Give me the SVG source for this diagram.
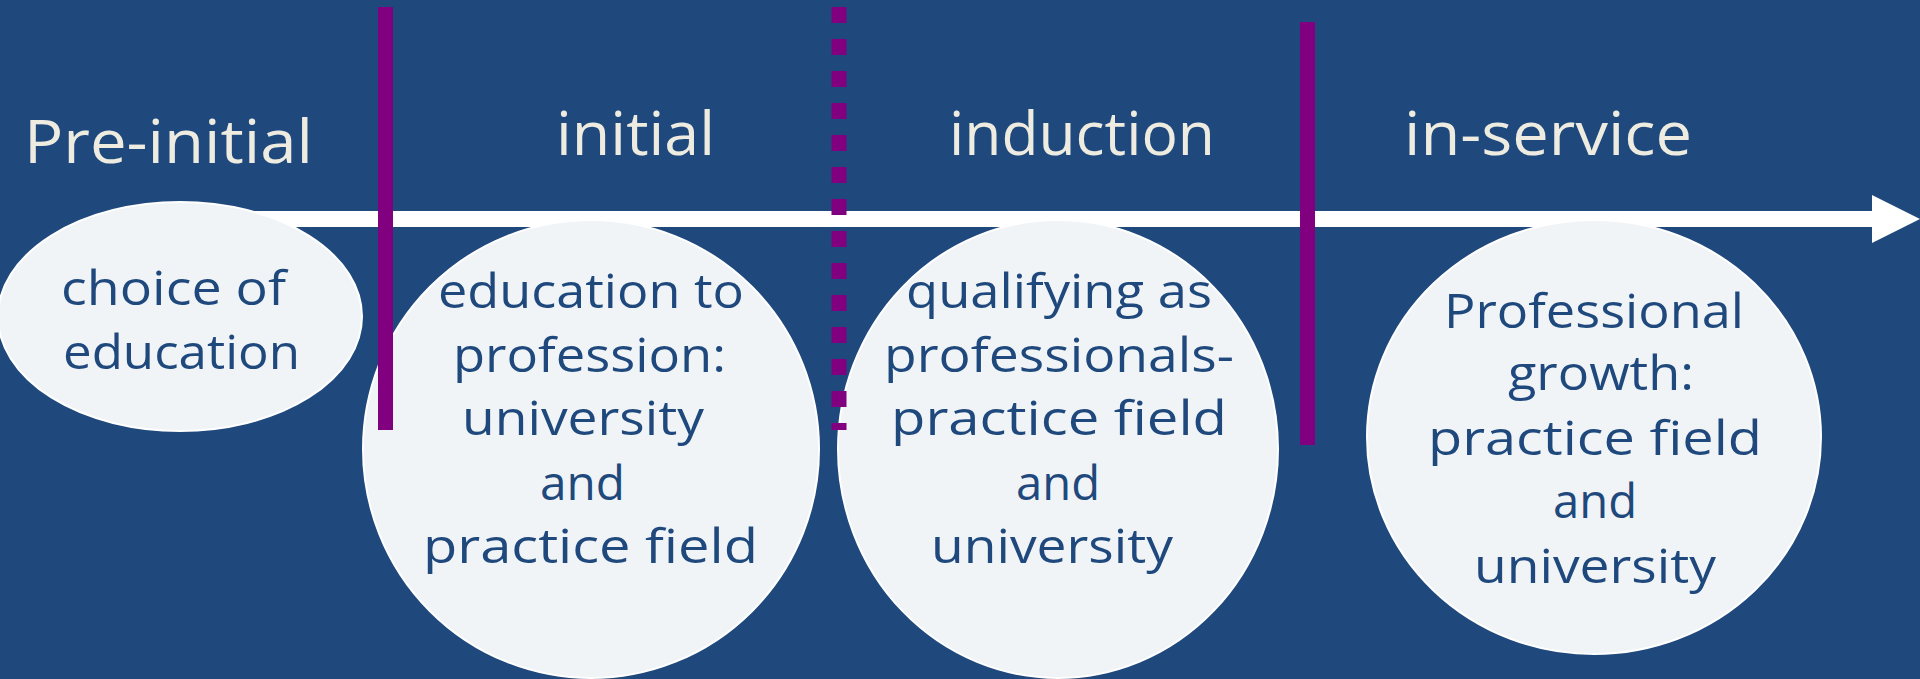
<svg xmlns="http://www.w3.org/2000/svg" width="1920" height="679" viewBox="0 0 1920 679">
<style>
.bg{fill:#1F497D}
.node ellipse{fill:#F0F4F7;stroke:#FFFFFF;stroke-width:2}
.hdr{font-family:"Comic Sans MS","Open Sans",sans-serif;font-size:60px;fill:#EEECE1}
.body{font-family:"Comic Sans MS","Open Sans",sans-serif;font-size:48px;fill:#1F497D}
.div{stroke:#800080;stroke-width:15;fill:none}
</style>
<rect class="bg" x="0" y="0" width="1920" height="679"/>
<g id="connectors">
  <rect x="200" y="211" width="1674" height="16" fill="#FFFFFF"/>
  <polygon points="1872,195 1920,219 1872,243" fill="#FFFFFF"/>
</g>
<g id="headers">
  <text class="hdr" x="24" y="163" textLength="289" lengthAdjust="spacingAndGlyphs">Pre-initial</text>
  <text class="hdr" x="556" y="155" textLength="159" lengthAdjust="spacingAndGlyphs">initial</text>
  <text class="hdr" x="949" y="155" textLength="266" lengthAdjust="spacingAndGlyphs">induction</text>
  <text class="hdr" x="1404" y="155" textLength="288" lengthAdjust="spacingAndGlyphs">in-service</text>
</g>
<g id="node-choice" class="node">
  <ellipse cx="180" cy="316.5" rx="182" ry="114.5"/>
  <text class="body" x="61" y="305" textLength="225" lengthAdjust="spacingAndGlyphs">choice of</text>
  <text class="body" x="63" y="369" textLength="237" lengthAdjust="spacingAndGlyphs">education</text>
</g>
<g id="node-education" class="node">
  <ellipse cx="591" cy="449" rx="228" ry="229"/>
  <text class="body" x="438" y="308" textLength="306" lengthAdjust="spacingAndGlyphs">education to</text>
  <text class="body" x="453" y="372" textLength="273" lengthAdjust="spacingAndGlyphs">profession:</text>
  <text class="body" x="462" y="435" textLength="242" lengthAdjust="spacingAndGlyphs">university</text>
  <text class="body" x="540" y="500" textLength="85" lengthAdjust="spacingAndGlyphs">and</text>
  <text class="body" x="423" y="563" textLength="335" lengthAdjust="spacingAndGlyphs">practice field</text>
</g>
<g id="node-qualifying" class="node">
  <ellipse cx="1058" cy="449" rx="220" ry="229"/>
  <text class="body" x="906" y="308" textLength="306" lengthAdjust="spacingAndGlyphs">qualifying as</text>
  <text class="body" x="884" y="372" textLength="350" lengthAdjust="spacingAndGlyphs">professionals-</text>
  <text class="body" x="891" y="435" textLength="336" lengthAdjust="spacingAndGlyphs">practice field</text>
  <text class="body" x="1016" y="500" textLength="84" lengthAdjust="spacingAndGlyphs">and</text>
  <text class="body" x="931" y="563" textLength="242" lengthAdjust="spacingAndGlyphs">university</text>
</g>
<g id="node-growth" class="node">
  <ellipse cx="1594" cy="437" rx="227" ry="217"/>
  <text class="body" x="1444" y="328" textLength="300" lengthAdjust="spacingAndGlyphs">Professional</text>
  <text class="body" x="1508" y="390" textLength="186" lengthAdjust="spacingAndGlyphs">growth:</text>
  <text class="body" x="1428" y="455" textLength="334" lengthAdjust="spacingAndGlyphs">practice field</text>
  <text class="body" x="1553" y="518" textLength="84" lengthAdjust="spacingAndGlyphs">and</text>
  <text class="body" x="1474" y="583" textLength="242" lengthAdjust="spacingAndGlyphs">university</text>
</g>
<g id="dividers">
  <line class="div" x1="385.5" y1="7" x2="385.5" y2="430"/>
  <line class="div" x1="839" y1="7" x2="839" y2="430" stroke-dasharray="16 16"/>
  <line class="div" x1="1307.5" y1="22" x2="1307.5" y2="445"/>
</g>
</svg>
